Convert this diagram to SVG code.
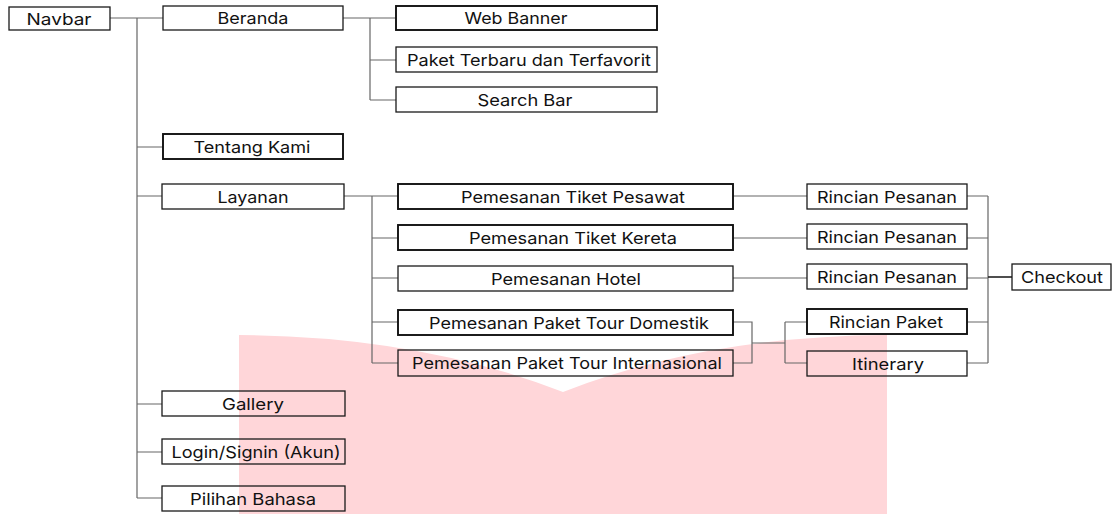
<svg xmlns="http://www.w3.org/2000/svg" width="1112" height="514" viewBox="0 0 1112 514">
<style>
.bx{fill:none;stroke:#1a1a1a;stroke-width:1.3}
.bb{fill:none;stroke:#111;stroke-width:1.9}
.t{font-family:Inter,"Liberation Sans",Arial,sans-serif;font-size:16.5px;fill:#111;text-anchor:middle}
.c{fill:none;stroke:#666;stroke-width:1.2}
</style>
<rect width="1112" height="514" fill="#fff"/>
<path d="M239,335 Q420,336 563,392 Q706,336 887,335 L887,514 L239,514 Z" fill="#ffd6d9"/>
<g id="connectors">
<path class="c" d="M110,18 H163 M137,18 V498 M137,147 H163 M137,196 H162 M137,404 H162 M137,452 H162 M137,498 H162"/>
<path class="c" d="M343,18 H396 M370,18 V100 M370,60 H396 M370,100 H396"/>
<path class="c" d="M344,196 H398 M372,196 V363 M372,238 H398 M372,278 H398 M372,322 H398 M372,363 H398"/>
<path class="c" d="M733,196 H807 M733,238 H807 M733,278 H807"/>
<path class="c" d="M733,322 H752 V363 H733 M752,343 H785 M785,322 V363 M785,322 H807 M785,363 H807"/>
<path class="c" d="M967,196 H988 M967,238 H988 M967,278 H988 M967,322 H988 M967,363 H988 M988,196 V363"/>
<path d="M988,277 H1012" fill="none" stroke="#222" stroke-width="1.6"/>
</g>
<g id="navbar"><rect class="bx" x="9" y="7" width="101" height="23"/><text class="t" x="59" y="24.5" textLength="65" lengthAdjust="spacingAndGlyphs">Navbar</text></g>
<g id="beranda"><rect class="bx" x="163" y="6" width="180" height="24"/><text class="t" x="253" y="24" textLength="71" lengthAdjust="spacingAndGlyphs">Beranda</text></g>
<g id="web-banner"><rect class="bb" x="396" y="6" width="261" height="24"/><text class="t" x="516" y="24" textLength="103" lengthAdjust="spacingAndGlyphs">Web Banner</text></g>
<g id="paket-terbaru"><rect class="bx" x="396" y="47" width="261" height="25"/><text class="t" x="529" y="66" textLength="244" lengthAdjust="spacingAndGlyphs">Paket Terbaru dan Terfavorit</text></g>
<g id="search-bar"><rect class="bx" x="396" y="87" width="261" height="25"/><text class="t" x="525" y="106" textLength="95" lengthAdjust="spacingAndGlyphs">Search Bar</text></g>
<g id="tentang-kami"><rect class="bb" x="163" y="134" width="180" height="25"/><text class="t" x="252" y="153" textLength="117" lengthAdjust="spacingAndGlyphs">Tentang Kami</text></g>
<g id="layanan"><rect class="bx" x="162" y="184" width="182" height="25"/><text class="t" x="253" y="203" textLength="71" lengthAdjust="spacingAndGlyphs">Layanan</text></g>
<g id="tiket-pesawat"><rect class="bb" x="398" y="184" width="335" height="25"/><text class="t" x="573" y="203" textLength="224" lengthAdjust="spacingAndGlyphs">Pemesanan Tiket Pesawat</text></g>
<g id="tiket-kereta"><rect class="bb" x="398" y="225" width="335" height="25"/><text class="t" x="573" y="244" textLength="208" lengthAdjust="spacingAndGlyphs">Pemesanan Tiket Kereta</text></g>
<g id="hotel"><rect class="bx" x="398" y="266" width="335" height="25"/><text class="t" x="566" y="285" textLength="150" lengthAdjust="spacingAndGlyphs">Pemesanan Hotel</text></g>
<g id="tour-domestik"><rect class="bb" x="398" y="310" width="335" height="25"/><text class="t" x="569" y="329" textLength="280" lengthAdjust="spacingAndGlyphs">Pemesanan Paket Tour Domestik</text></g>
<g id="tour-internasional"><rect class="bx" x="398" y="350" width="335" height="26"/><text class="t" x="567" y="369" textLength="310" lengthAdjust="spacingAndGlyphs">Pemesanan Paket Tour Internasional</text></g>
<g id="rincian-pesanan-1"><rect class="bx" x="807" y="184" width="160" height="25"/><text class="t" x="887" y="203" textLength="140" lengthAdjust="spacingAndGlyphs">Rincian Pesanan</text></g>
<g id="rincian-pesanan-2"><rect class="bx" x="807" y="224" width="160" height="25"/><text class="t" x="887" y="243" textLength="140" lengthAdjust="spacingAndGlyphs">Rincian Pesanan</text></g>
<g id="rincian-pesanan-3"><rect class="bx" x="807" y="264" width="160" height="25"/><text class="t" x="887" y="283" textLength="140" lengthAdjust="spacingAndGlyphs">Rincian Pesanan</text></g>
<g id="rincian-paket"><rect class="bb" x="807" y="309" width="160" height="25"/><text class="t" x="886" y="328" textLength="114" lengthAdjust="spacingAndGlyphs">Rincian Paket</text></g>
<g id="itinerary"><rect class="bx" x="807" y="351" width="160" height="25"/><text class="t" x="888" y="370" textLength="72" lengthAdjust="spacingAndGlyphs">Itinerary</text></g>
<g id="checkout"><rect class="bx" x="1012" y="264" width="99" height="26"/><text class="t" x="1062" y="283" textLength="82" lengthAdjust="spacingAndGlyphs">Checkout</text></g>
<g id="gallery"><rect class="bx" x="162" y="391" width="183" height="25"/><text class="t" x="253" y="410" textLength="62" lengthAdjust="spacingAndGlyphs">Gallery</text></g>
<g id="login"><rect class="bx" x="162" y="439" width="183" height="25"/><text class="t" x="256" y="458" textLength="169" lengthAdjust="spacingAndGlyphs">Login/Signin (Akun)</text></g>
<g id="pilihan-bahasa"><rect class="bx" x="162" y="486" width="183" height="25"/><text class="t" x="253" y="505" textLength="126" lengthAdjust="spacingAndGlyphs">Pilihan Bahasa</text></g>
</svg>
